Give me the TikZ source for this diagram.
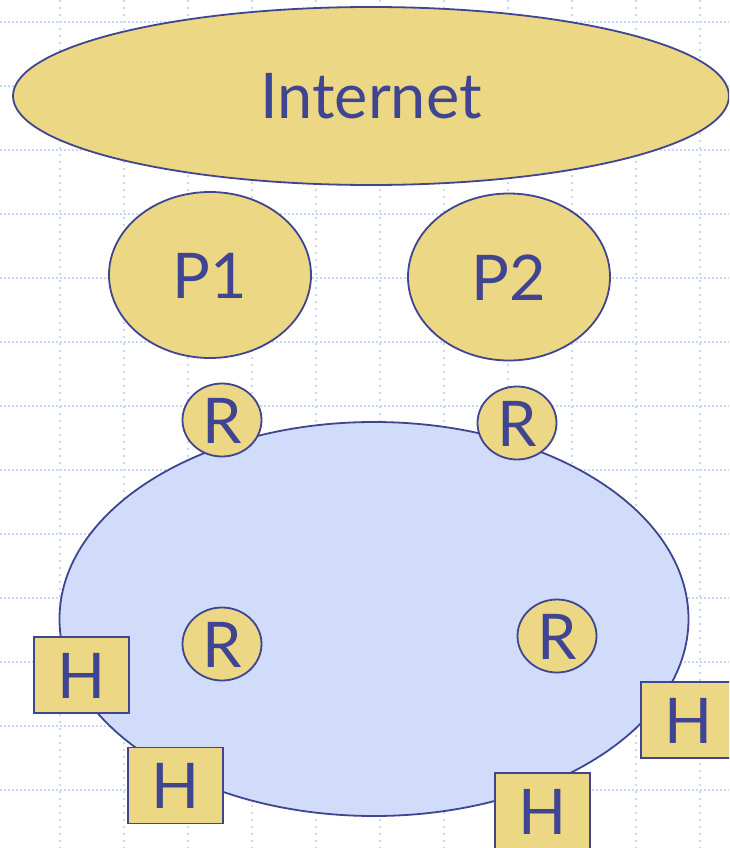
\documentclass[tikz,border=0pt]{standalone}
\usepackage{fontspec}
\setmainfont{Lato}
\usetikzlibrary{shapes.geometric}
\definecolor{sand}{HTML}{EBD784}
\definecolor{ink}{HTML}{3F4590}
\definecolor{lan}{HTML}{D0DCFA}
\definecolor{gridblue}{HTML}{CAD6F6}
\tikzset{
  outline/.style={draw=ink, line width=1.8pt, inner sep=0pt, text=ink,
    font=\fontsize{63}{63}\selectfont, text height=46pt, text depth=0pt},
  cloud/.style={outline, ellipse, fill=sand},
  router/.style={cloud, minimum width=79pt, minimum height=73pt},
  host/.style={outline, rectangle, fill=sand, minimum width=95pt, minimum height=76pt},
  hrule/.style={gridblue, line width=1.6pt, dash pattern=on 2pt off 2pt},
  vrule/.style={gridblue, line width=1.6pt, dash pattern=on 2pt off 5pt},
}
\begin{document}
\begin{tikzpicture}[x=1pt, y=-1pt]
\useasboundingbox (0,0) rectangle (729,848);
\clip (0,0) rectangle (729,848);
\fill[white] (0,0) rectangle (729,848);
% background grid
\foreach \y in {22,86,...,790} \draw[hrule] (0,\y) -- (729,\y);
\foreach \x in {60,124,...,700} \draw[vrule] (\x,0) -- (\x,848);
% upstream networks
\node[cloud, minimum width=716pt, minimum height=178pt] (internet) at (371,96) {Internet};
\node[cloud, minimum width=202pt, minimum height=166pt] (p1) at (210,275) {P1};
\node[cloud, minimum width=202pt, minimum height=167pt] (p2) at (509,277) {P2};
% local network
\node[outline, ellipse, fill=lan, minimum width=629pt, minimum height=394pt] (net) at (374,619) {};
% routers
\node[router] (r1) at (222,420) {R};
\node[router] (r2) at (517,423) {R};
\node[router] (r3) at (222,644) {R};
\node[router] (r4) at (557,636) {R};
% hosts
\node[host] (h1) at (81.5,675) {H};
\node[host] (h2) at (175.5,785.5) {H};
\node[host] (h3) at (688.5,720) {H};
\node[host] (h4) at (542.5,811) {H};
\end{tikzpicture}
\end{document}
